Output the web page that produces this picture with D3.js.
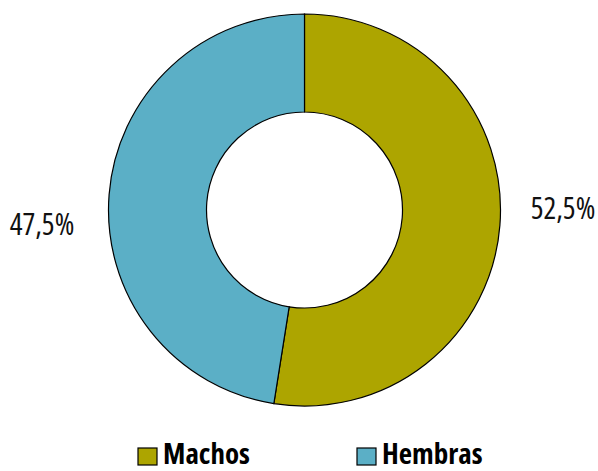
<!DOCTYPE html>
<html>
<head>
<meta charset="utf-8">
<script src="https://cdn.jsdelivr.net/npm/d3@7"></script>
<style>
  html, body { margin: 0; padding: 0; background: #fff; }
  svg { display: block; }
  .lbl { font-family: "Open Sans", "Liberation Sans Narrow", "DejaVu Sans Condensed", sans-serif; font-stretch: condensed; }
</style>
</head>
<body>
<svg id="chart" width="598" height="471"></svg>
<script>
const categories = ["Machos", "Hembras"];
const values = [52.5, 47.5];
const valueLabels = ["52,5%", "47,5%"];
const colors = ["#ADA500", "#5BAFC6"];

const svg = d3.select("#chart");
const cx = 304.5, cy = 210, outerR = 196, innerR = 98;

const data = categories.map((c, i) => ({ name: c, value: values[i], label: valueLabels[i], color: colors[i] }));
const pie = d3.pie().value(d => d.value).sort(null);
const arc = d3.arc().innerRadius(innerR).outerRadius(outerR);
const arcs = pie(data);

const g = svg.append("g").attr("transform", `translate(${cx},${cy})`);
g.selectAll("path").data(arcs).join("path")
  .attr("d", arc)
  .attr("fill", d => d.data.color)
  .attr("stroke", "#000")
  .attr("stroke-width", 1.2);

// value labels
const labelPos = [{ x: 563, y: 219, anchor: "middle" }, { x: 42, y: 235, anchor: "middle" }];
svg.selectAll("text.val").data(arcs).join("text")
  .attr("class", "lbl val")
  .attr("x", (d, i) => labelPos[i].x)
  .attr("y", (d, i) => labelPos[i].y)
  .attr("text-anchor", (d, i) => labelPos[i].anchor)
  .attr("font-size", 30)
  .attr("fill", "#111")
  .text(d => d.data.label);

// legend
const legendX = d3.scalePoint().domain(categories).range([138, 357]);
const lg = svg.selectAll("g.leg").data(data).join("g")
  .attr("class", "leg")
  .attr("transform", d => `translate(${legendX(d.name)},448)`);
lg.append("rect").attr("width", 19).attr("height", 17)
  .attr("fill", d => d.color).attr("stroke", "#000").attr("stroke-width", 1.2);
lg.append("text").attr("class", "lbl")
  .attr("x", 25).attr("y", 16)
  .attr("font-size", 29).attr("font-weight", "bold").attr("fill", "#000")
  .text(d => d.name);
</script>
</body>
</html>
